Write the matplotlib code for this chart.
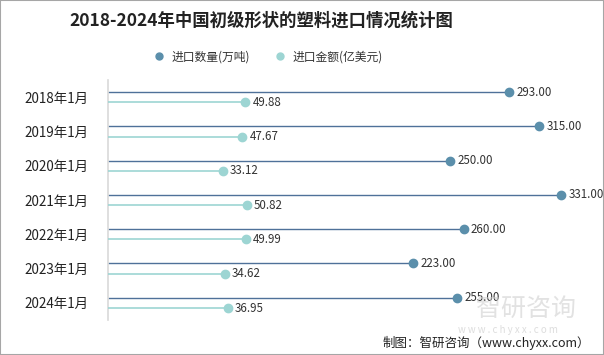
import matplotlib
matplotlib.use("Agg")
import matplotlib.pyplot as plt
from matplotlib.lines import Line2D
from matplotlib.patches import Rectangle
import numpy as np

plt.rcParams['font.family'] = ['Noto Sans CJK SC', 'DejaVu Sans']

# data
months = ["2018年1月", "2019年1月", "2020年1月", "2021年1月", "2022年1月", "2023年1月", "2024年1月"]
volume = [293.00, 315.00, 250.00, 331.00, 260.00, 223.00, 255.00]   # 进口数量(万吨)
amount = [49.88, 47.67, 33.12, 50.82, 49.99, 34.62, 36.95]          # 进口金额(亿美元)

dark_line = "#4f7199"
dark_dot = "#5b8fab"
light_line = "#9dd5d3"
light_dot = "#9dd5d3"

W, H = 604, 355
fig = plt.figure(figsize=(W / 100, H / 100), dpi=100)

# plot area in pixels: x 108..590, y 80..320
ax = fig.add_axes([108 / W, 1 - 320 / H, (590 - 108) / W, 240 / H])
ax2 = ax.twiny()

y = np.arange(len(months))
off = 0.15

# dark series
ax.hlines(y - off, 0, volume, color=dark_line, lw=1.0)
ax.scatter(volume, y - off, s=36, color=dark_dot, zorder=3)
for v, yy in zip(volume, y - off):
    ax.annotate(f"{v:.2f}", (v, yy), xytext=(5, 0), textcoords="offset points",
                va="center", ha="left", fontsize=8.3, color="#333333")

# light series on a shifted axis (as in the original chart)
ax2.hlines(y + off, -50.5, amount, color=light_line, lw=1.2)
ax2.scatter(amount, y + off, s=36, color=light_dot, zorder=3)
for v, yy in zip(amount, y + off):
    ax2.annotate(f"{v:.2f}", (v, yy), xytext=(5, 0), textcoords="offset points",
                 va="center", ha="left", fontsize=8.3, color="#333333")

ax.set_xlim(0, 352)
ax2.set_xlim(-50.5, 301.5)
ax.set_ylim(len(months) - 0.5, -0.5)
ax2.set_ylim(len(months) - 0.5, -0.5)

for a in (ax, ax2):
    for s in ["top", "right", "bottom"]:
        a.spines[s].set_visible(False)
    a.set_xticks([])
ax2.spines["left"].set_visible(False)
ax.spines["left"].set_color("#d9d9d9")
ax.spines["left"].set_linewidth(1.2)
ax.set_yticks(y)
ax.set_yticklabels(months, fontsize=9.7, color="#222222")
ax.tick_params(axis="y", length=0, pad=14)

# title
fig.text(261 / W, 1 - 21 / H, "2018-2024年中国初级形状的塑料进口情况统计图",
         ha="center", va="center", fontsize=12.5, fontweight="bold", color="#222222")

# legend
handles = [
    Line2D([], [], marker="o", ls="", color=dark_dot, markersize=5, label="进口数量(万吨)"),
    Line2D([], [], marker="o", ls="", color=light_dot, markersize=5, label="进口金额(亿美元)"),
]
fig.legend(handles=handles, loc="center", bbox_to_anchor=(265 / W, 1 - 57 / H), ncol=2,
           frameon=False, fontsize=8.5, handletextpad=0.1, columnspacing=1.5,
           labelcolor="#333333")

# watermark
fig.text(526 / W, 1 - 309 / H, "智研咨询", ha="center", va="center",
         fontsize=18, color="#cfcfcf", alpha=0.6, zorder=0)
fig.text(508 / W, 1 - 330 / H, "w w w . c h y x x . c o m", ha="center", va="center",
         fontsize=7, color="#cfcfcf", alpha=0.7)

# footer
fig.text(590 / W, 1 - 343 / H, "制图：智研咨询（www.chyxx.com）", ha="right", va="center",
         fontsize=9, color="#222222")

# border
fig.patches.append(Rectangle((0, 0), 1, 1, transform=fig.transFigure, fill=False,
                             edgecolor="#a6a6a6", lw=1.5))

fig.savefig("out.png", dpi=100)
